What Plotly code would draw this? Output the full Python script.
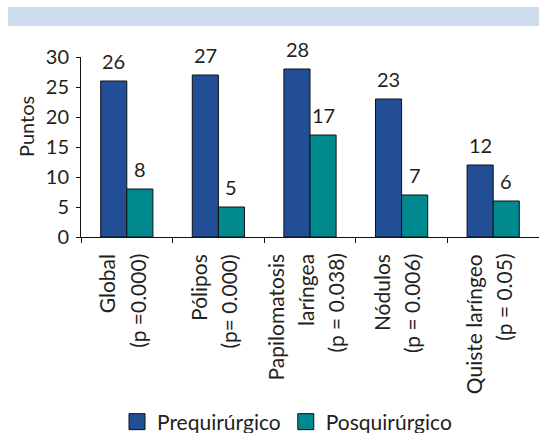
import plotly.graph_objects as go

categories = ["Global", "Pólipos", "Papilomatosis laríngea", "Nódulos", "Quiste laríngeo"]
label_lines = [
    ["Global", "(p =0.000)"],
    ["Pólipos", "(p= 0.000)"],
    ["Papilomatosis", "laríngea", "(p = 0.038)"],
    ["Nódulos", "(p = 0.006)"],
    ["Quiste laríngeo", "(p = 0.05)"],
]
pre_values = [26, 27, 28, 23, 12]
post_values = [8, 5, 17, 7, 6]
series_names = ["Prequirúrgico", "Posquirúrgico"]
y_ticks = [0, 5, 10, 15, 20, 25, 30]

BLUE = "#224e96"
TEAL = "#00898f"
TXT = "#231f20"
FONT = "Lato"
FS = 20
FS_CAT = 21

W, H = 539, 433
ML, MR, MT, MB = 81, 0, 57, 196
PW = W - ML - MR
PH = H - MT - MB

fig = go.Figure()
for name, vals, col in [(series_names[0], pre_values, BLUE), (series_names[1], post_values, TEAL)]:
    fig.add_trace(go.Bar(x=categories, y=vals, name=name, marker=dict(color=col, line=dict(color="#111", width=1)),
                         showlegend=False, cliponaxis=False))
    fig.add_trace(go.Scatter(x=[None], y=[None], mode="markers", name=name,
                             marker=dict(symbol="square", size=16, color=col, line=dict(color="#111", width=1))))

ann = []
# value labels
for vals, sh in [(pre_values, -13), (post_values, 13)]:
    for c, v in zip(categories, vals):
        ann.append(dict(x=c, y=v, xref="x", yref="y", text=str(v), showarrow=False, xshift=sh, yshift=6,
                        yanchor="bottom", font=dict(family=FONT, size=FS, color=TXT)))
# category labels
SP = 30
for c, lines in zip(categories, label_lines):
    n = len(lines)
    for i, t in enumerate(lines):
        off = -5 + (i - (n - 1) / 2) * SP
        ann.append(dict(x=c, y=0, xref="x", yref="y", text=t, showarrow=False, textangle=-90, xshift=off,
                        yshift=-15, yanchor="top", xanchor="center", font=dict(family=FONT, size=FS_CAT, color=TXT)))
# y title
ann.append(dict(x=(26 - ML) / PW, y=(237 - 127) / PH, xref="paper", yref="paper", text="Puntos", showarrow=False,
                textangle=-90, xanchor="center", yanchor="middle", font=dict(family=FONT, size=FS, color=TXT)))

fig.update_layout(
    width=W, height=H, margin=dict(l=ML, r=MR, t=MT, b=MB, pad=0, autoexpand=False),
    paper_bgcolor="white", plot_bgcolor="white",
    barmode="group", bargap=0.43, bargroupgap=0,
    font=dict(family=FONT, size=FS, color=TXT),
    annotations=ann,
    shapes=[dict(type="rect", xref="paper", yref="paper", x0=(8 - ML) / PW, x1=(540 - ML) / PW,
                 y0=(237 - 26) / PH, y1=(237 - 7) / PH, fillcolor="#cedded", line=dict(width=0), layer="below")],
    legend=dict(orientation="h", x=(287 - ML) / PW, xanchor="center", y=(237 - 422) / PH, yanchor="middle",
                font=dict(family=FONT, size=FS_CAT, color=TXT), bgcolor="rgba(0,0,0,0)"),
    xaxis=dict(showline=True, linecolor="#111", linewidth=1, ticks="outside", tickson="boundaries", ticklen=5,
               tickcolor="#111", showticklabels=False, showgrid=False, zeroline=False, automargin=False),
    yaxis=dict(range=[0, 30], tickvals=y_ticks, showline=True, linecolor="#111", linewidth=1, ticks="outside",
               ticklen=4, tickcolor="#111", showgrid=False, zeroline=False, ticklabelstandoff=3, automargin=False,
               tickfont=dict(family=FONT, size=FS, color=TXT)),
)
fig.write_html("out.html", config={"displayModeBar": False},
               post_script="document.body.style.margin='0';document.body.style.overflow='hidden';")
